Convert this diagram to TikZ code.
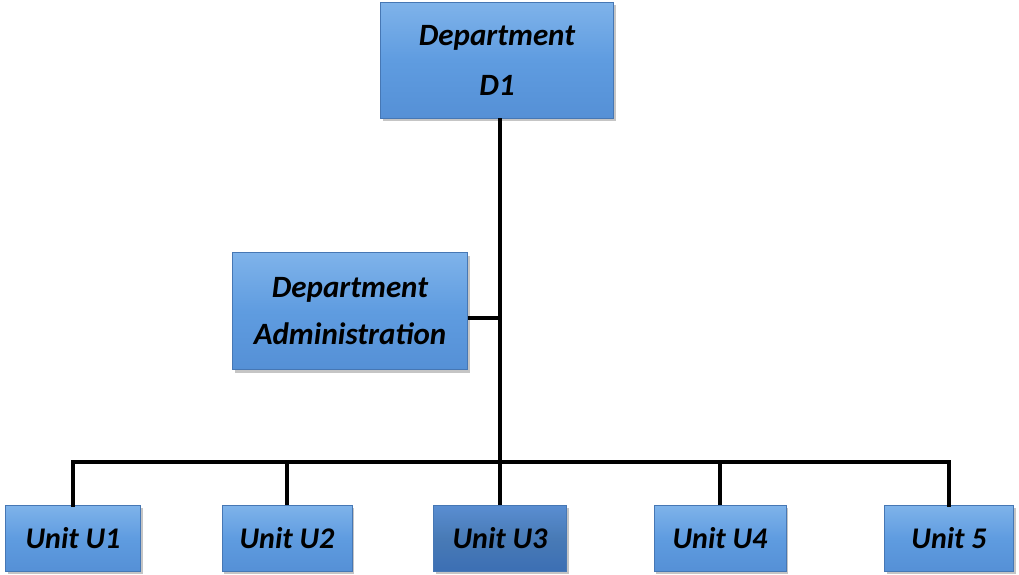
\documentclass[tikz,border=0pt]{standalone}
\usepackage{fontspec}
\setmainfont{Carlito}
\usetikzlibrary{shadows}
\definecolor{boxtop}{HTML}{7FB3EA}
\definecolor{boxmid}{HTML}{5F9CE0}
\definecolor{boxbot}{HTML}{5590D6}
\definecolor{boxline}{HTML}{4677B4}
\definecolor{darktop}{HTML}{5A8ED2}
\definecolor{darkbot}{HTML}{3C6FB4}
\tikzset{
  orgbox/.style={draw=boxline, line width=0.8pt, top color=boxtop, bottom color=boxbot, middle color=boxmid,
    drop shadow={shadow xshift=2pt, shadow yshift=-3pt, fill=black!45, opacity=0.5},
    inner sep=0pt, align=center, font=\fontsize{31}{50}\selectfont\bfseries\itshape},
  darkbox/.style={orgbox, top color=darktop, bottom color=darkbot, middle color=boxbot!85!black},
  link/.style={line width=4.5pt, black}
}
\begin{document}
\begin{tikzpicture}[x=1pt,y=-1pt]
\useasboundingbox (0,0) rectangle (1019,574);
\node[orgbox, minimum width=233pt, minimum height=116pt] (d1) at (497,60) {Department\\D1};
\node[orgbox, minimum width=235pt, minimum height=117pt, font=\fontsize{31}{47}\selectfont\bfseries\itshape] (adm) at (350,311) {Department\\Administration};
\node[orgbox, minimum width=135pt, minimum height=66pt, font=\fontsize{30}{36}\selectfont\bfseries\itshape] (u1) at (73,538) {Unit U1};
\node[orgbox, minimum width=130pt, minimum height=66pt, font=\fontsize{30}{36}\selectfont\bfseries\itshape] (u2) at (287,538) {Unit U2};
\node[darkbox, minimum width=133pt, minimum height=66pt, font=\fontsize{30}{36}\selectfont\bfseries\itshape] (u3) at (500,538) {Unit U3};
\node[orgbox, minimum width=132pt, minimum height=66pt, font=\fontsize{30}{36}\selectfont\bfseries\itshape] (u4) at (720,538) {Unit U4};
\node[orgbox, minimum width=129pt, minimum height=66pt, font=\fontsize{30}{36}\selectfont\bfseries\itshape] (u5) at (949,538) {Unit 5};
\coordinate (j) at (500,462);
\coordinate (a) at (500,318);
\draw[link] (d1.south -| j) -- (j);
\draw[link] (adm.east |- a) -- (a);
\draw[link, line cap=rect] (u1.north) |- (j) -| (u5.north);
\draw[link] (u2.north) -- (u2.north |- j);
\draw[link] (u3.north) -- (j);
\draw[link] (u4.north) -- (u4.north |- j);
\end{tikzpicture}
\end{document}
